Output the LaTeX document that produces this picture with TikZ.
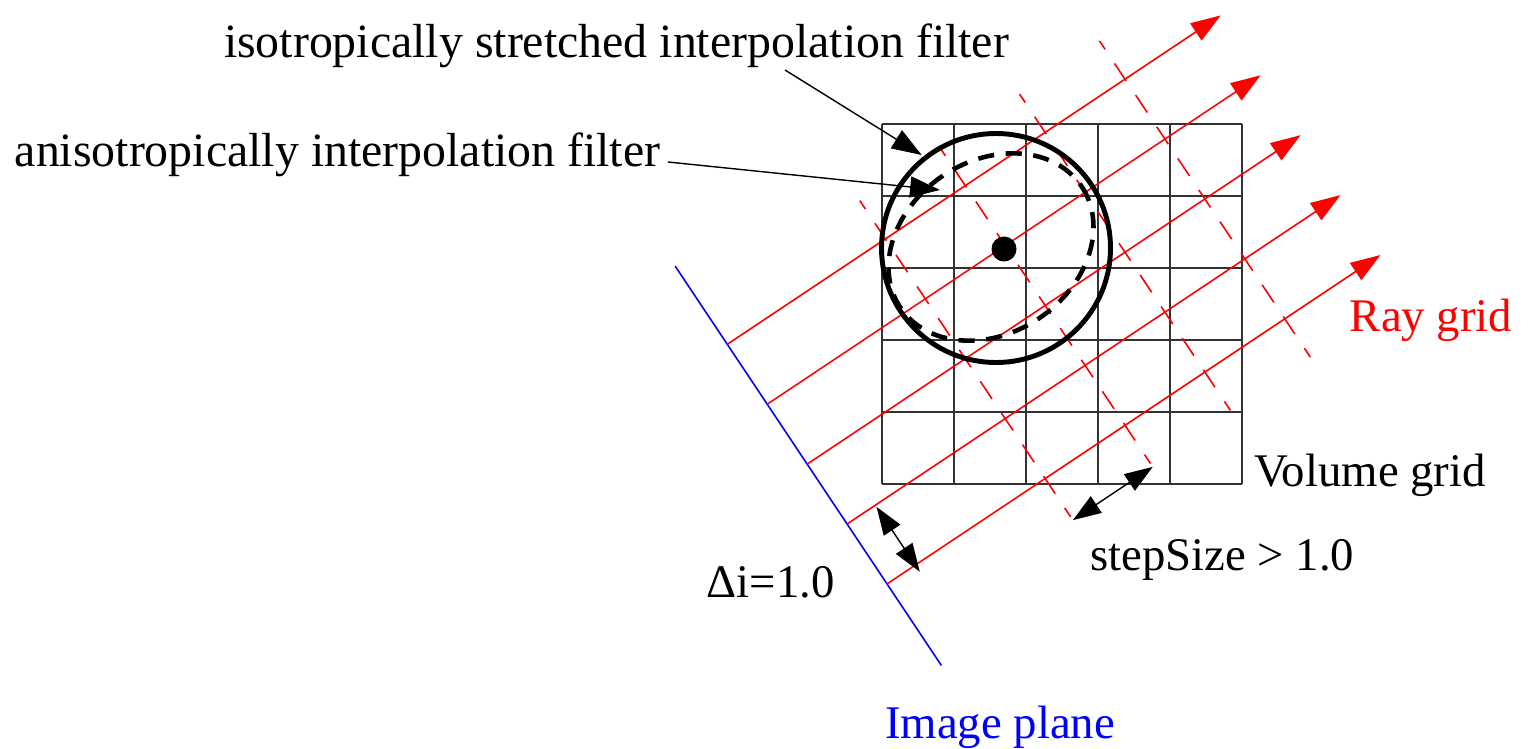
\documentclass[tikz,border=0pt]{standalone}
\usepackage{fontspec}
\setmainfont{Liberation Serif}
\usetikzlibrary{arrows.meta}

\begin{document}
\begin{tikzpicture}[
        x=0.01cm, y=-0.01cm,
        txt/.style={inner sep=0pt, anchor=base, font=\fontsize{13.3}{16}\selectfont},
        bigtxt/.style={txt, font=\fontsize{13.6}{16}\selectfont},
        cell/.style={draw=black!80, line width=0.7pt},
        ray/.style={red, line width=0.45pt, -{Triangle[length=8.5pt, width=5.8pt]}},
        sampleline/.style={red, line width=0.45pt, dash pattern=on 5.97pt off 4.84pt, dash phase=3.1pt},
        plane/.style={blue, line width=0.45pt},
        isofilter/.style={line width=1.4pt},
        anisofilter/.style={line width=1.3pt, dash pattern=on 4.6pt off 3.3pt},
        sampledot/.style={circle, fill, inner sep=0pt, minimum size=0.25cm},
        pointer/.style={line width=0.4pt, -{Triangle[length=8.5pt, width=6pt]}},
        measure/.style={line width=0.4pt, {Triangle[length=8pt, width=5.6pt]}-{Triangle[length=8pt, width=5.6pt]}}
    ]
    \useasboundingbox (0,0) rectangle (1536,748);

    % Volume grid
    \foreach \k in {0,...,5} {
        \draw[cell] (882+72*\k,124) -- (882+72*\k,484);
        \draw[cell] (882,124+72*\k) -- (1242,124+72*\k);
    }

    % Image plane, rays and sample lines
    \begin{scope}[shift={(727.3,344.3)}, rotate=33.69]
        \coordinate (planetop) at (0,-94);
        \coordinate (planebot) at (0,386);
        \draw[plane] (planetop) -- (planebot);
        \foreach \k in {0,...,4} {
            \coordinate (rs\k) at (0,72*\k);
            \coordinate (re\k) at (593,72*\k);
            \draw[ray] (rs\k) -- (re\k);
        }
        \foreach \s [count=\n] in {190,286,382,478} {
            \coordinate (ss\n) at (\s,-46);
            \coordinate (se\n) at (\s,334);
            \draw[sampleline] (ss\n) -- (se\n);
        }
        \coordinate (di1) at (34,218);
        \coordinate (di2) at (34,296);
        \coordinate (st1) at (190,338);
        \coordinate (st2) at (286,338);
    \end{scope}

    % Filters
    \draw[isofilter] (996,248) circle[radius=114.5];
    \draw[anisofilter, rotate around={33.69:(991,247)}] (991,247) ellipse[x radius=109, y radius=86];
    \node[sampledot] (sample) at (1004,249) {};

    % Nodes
    \node[bigtxt] (isolabel) at (616.5,57) {isotropically stretched interpolation filter};
    \node[bigtxt] (anisolabel) at (337.5,166) {anisotropically interpolation filter};
    \node[txt, red] (raygrid) at (1431,331.7) {Ray grid};
    \node[txt] (volgrid) at (1370,486.7) {Volume grid};
    \node[txt] (steplabel) at (1222.3,570) {stepSize > 1.0};
    \node[txt] (deltalabel) at (770.8,597.5) {Δi=1.0};
    \node[txt, blue] (planelabel) at (1000,738.3) {Image plane};

    % Arrows
    \coordinate (isotail) at (785,70);
    \coordinate (isotip) at (921.7,155);
    \coordinate (anisotail) at (668,162);
    \coordinate (anisotip) at (940,190);
    \draw[pointer] (isotail) -- (isotip);
    \draw[pointer] (anisotail) -- (anisotip);
    \draw[measure] (di1) -- (di2);
    \draw[measure] (st1) -- (st2);

\end{tikzpicture}
\end{document}
